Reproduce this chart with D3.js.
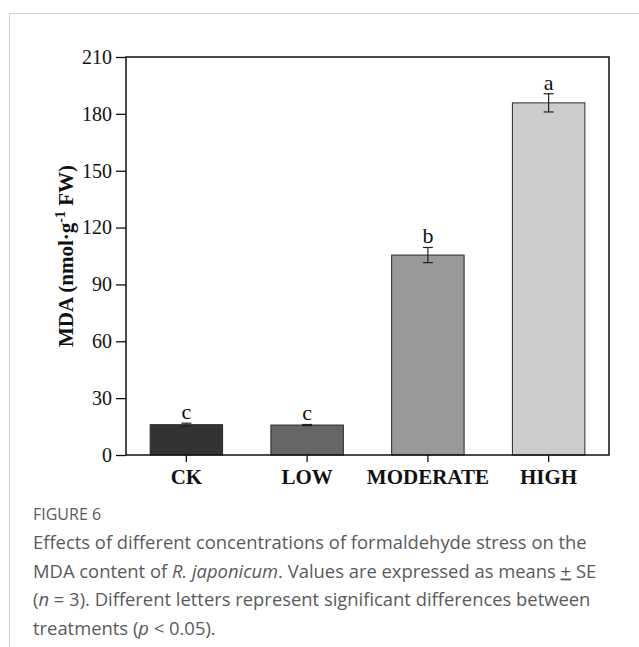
<!DOCTYPE html>
<html>
<head>
<meta charset="utf-8">
<script src="https://cdn.jsdelivr.net/npm/d3@7"></script>
<style>
  body { margin: 0; background: #fff; }
  .cap { font-family: "Open Sans", "Noto Sans", sans-serif; fill: #5a5a5a; }
</style>
</head>
<body>
<div id="chart"></div>
<script>
// data
var treatments = ["CK", "LOW", "MODERATE", "HIGH"];
var mdaMeans = [16.0, 15.8, 105.5, 185.8];
var mdaSE = [0.8, 0.3, 4.0, 4.8];
var sigLetters = ["c", "c", "b", "a"];
var yTicks = [0, 30, 60, 90, 120, 150, 180, 210];
var barColors = ["#333333", "#666666", "#999999", "#cccccc"];

var svgWidth = 639, svgHeight = 647;
var margin = {top: 57, right: 30, bottom: 192, left: 126};
var width = svgWidth - margin.left - margin.right;
var height = svgHeight - margin.top - margin.bottom;

var svg = d3.select("#chart").append("svg")
    .attr("width", svgWidth)
    .attr("height", svgHeight);

// light frame around the figure
svg.append("path")
    .attr("d", "M9.5," + svgHeight + "V13.5H" + svgWidth)
    .attr("fill", "none")
    .attr("stroke", "#cfcfcf")
    .attr("stroke-width", 1);

var chartGroup = svg.append("g")
    .attr("transform", `translate(${margin.left}, ${margin.top})`);

var x = d3.scaleBand()
    .domain(treatments)
    .range([0, width])
    .paddingInner(0.4)
    .paddingOuter(0.2);

var y = d3.scaleLinear()
    .domain([0, 210])
    .range([height, 0]);

// bars
chartGroup.selectAll("rect.bar")
    .data(treatments)
    .enter()
    .append("rect")
    .attr("class", "bar")
    .attr("x", d => x(d))
    .attr("y", (d, i) => y(mdaMeans[i]))
    .attr("width", x.bandwidth())
    .attr("height", (d, i) => height - y(mdaMeans[i]))
    .attr("fill", (d, i) => barColors[i])
    .attr("stroke", "#2a2a2a")
    .attr("stroke-width", 1);

// error bars
var cap = 5;
treatments.forEach(function(t, i) {
  var cx = x(t) + x.bandwidth() / 2;
  var top = y(mdaMeans[i] + mdaSE[i]);
  var bot = y(mdaMeans[i] - mdaSE[i]);
  var g = chartGroup.append("g").attr("stroke", "#222").attr("stroke-width", 1.2);
  g.append("line").attr("x1", cx).attr("x2", cx).attr("y1", top).attr("y2", bot);
  g.append("line").attr("x1", cx - cap).attr("x2", cx + cap).attr("y1", top).attr("y2", top);
  g.append("line").attr("x1", cx - cap).attr("x2", cx + cap).attr("y1", bot).attr("y2", bot);
});

// significance letters
chartGroup.selectAll("text.sig")
    .data(treatments)
    .enter()
    .append("text")
    .attr("class", "sig")
    .attr("x", d => x(d) + x.bandwidth() / 2)
    .attr("y", (d, i) => y(mdaMeans[i] + mdaSE[i]) - 4)
    .attr("text-anchor", "middle")
    .attr("font-family", "Liberation Serif, Times New Roman, serif")
    .attr("font-size", "22px")
    .attr("fill", "#111")
    .text((d, i) => sigLetters[i]);

// axes
var yAxis = d3.axisLeft(y).tickValues(yTicks).tickSize(10).tickPadding(4);
var xAxis = d3.axisBottom(x).tickSize(7).tickPadding(7);

var yg = chartGroup.append("g").call(yAxis);
yg.select(".domain").remove();
yg.selectAll("line").attr("stroke", "#111").attr("stroke-width", 1.3);
yg.selectAll("text")
    .attr("font-family", "Liberation Serif, Times New Roman, serif")
    .attr("font-size", "20px")
    .attr("fill", "#111");

var xg = chartGroup.append("g")
    .attr("transform", `translate(0, ${height})`)
    .call(xAxis);
xg.select(".domain").remove();
xg.selectAll("line").attr("stroke", "#111").attr("stroke-width", 1.3);
xg.selectAll("text")
    .attr("font-family", "Liberation Serif, Times New Roman, serif")
    .attr("font-size", "21px")
    .attr("font-weight", "bold")
    .attr("fill", "#111");

// plot frame
chartGroup.append("rect")
    .attr("x", 0).attr("y", 0)
    .attr("width", width).attr("height", height)
    .attr("fill", "none")
    .attr("stroke", "#111")
    .attr("stroke-width", 1.5);

// y axis title
var ylab = chartGroup.append("text")
    .attr("transform", `translate(-53, ${height / 2}) rotate(-90)`)
    .attr("text-anchor", "middle")
    .attr("font-family", "Liberation Serif, Times New Roman, serif")
    .attr("font-size", "21px")
    .attr("font-weight", "bold")
    .attr("fill", "#111");
ylab.append("tspan").text("MDA (nmol·g");
ylab.append("tspan").attr("dy", -8).attr("font-size", "14px").text("-1");
ylab.append("tspan").attr("dy", 8).text(" FW)");

// caption
svg.append("text").attr("class", "cap")
    .attr("x", 33).attr("y", 520)
    .attr("font-size", "16px")
    .attr("fill", "#666")
    .text("FIGURE 6");

var capLines = [
  [["Effects of different concentrations of formaldehyde stress on the", false]],
  [["MDA content of ", false], ["R. japonicum", true], [". Values are expressed as means ", false], ["+", "u"], [" SE", false]],
  [["(", false], ["n", true], [" = 3). Different letters represent significant differences between", false]],
  [["treatments (", false], ["p", true], [" < 0.05).", false]]
];
capLines.forEach(function(parts, i) {
  var t = svg.append("text").attr("class", "cap")
      .attr("x", 33).attr("y", 549 + i * 28.5)
      .attr("font-size", "18.4px");
  parts.forEach(function(p) {
    var ts = t.append("tspan").text(p[0]);
    if (p[1] === true) ts.attr("font-style", "italic");
    if (p[1] === "u") ts.attr("text-decoration", "underline");
  });
});
</script>
</body>
</html>
